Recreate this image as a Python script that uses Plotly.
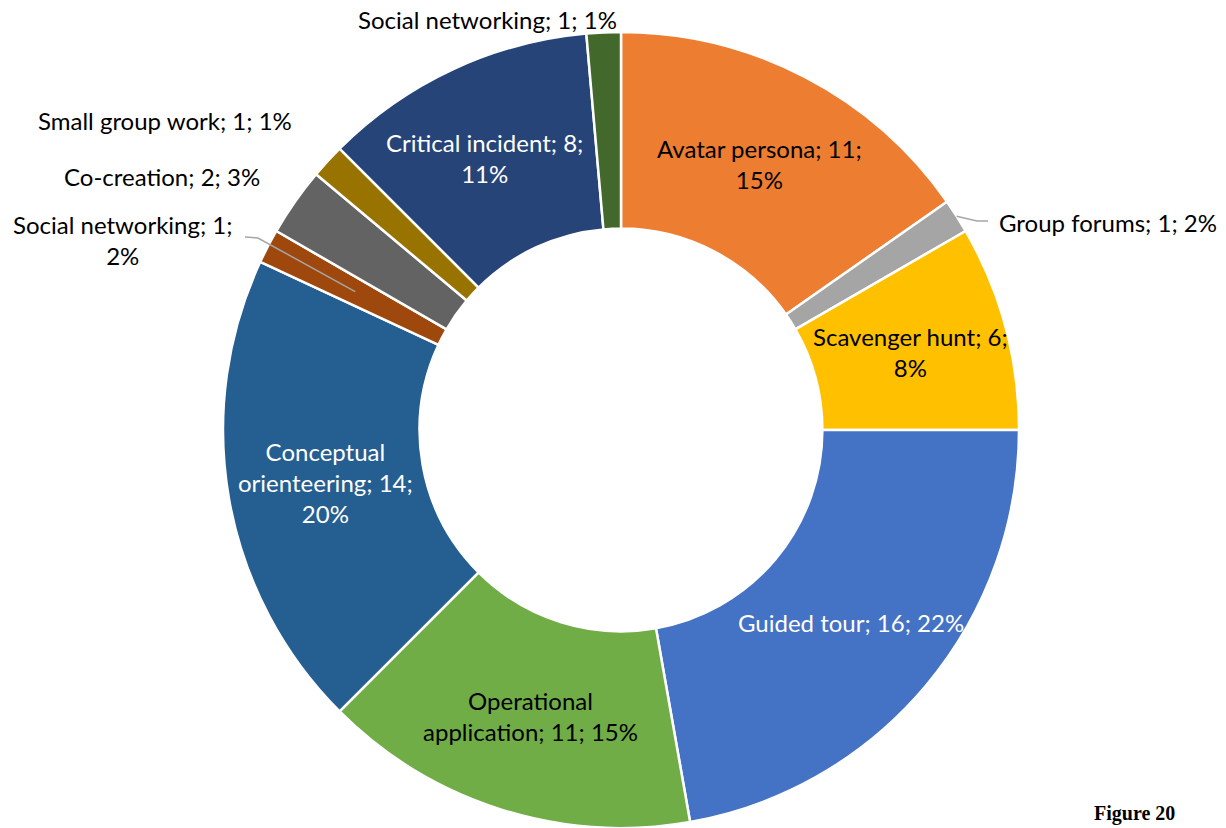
import math
import plotly.graph_objects as go

# Activity types, counts and the rounded shares shown in the labels
names = [
    "Avatar persona", "Group forums", "Scavenger hunt", "Guided tour",
    "Operational application", "Conceptual orienteering", "Social networking",
    "Co-creation", "Small group work", "Critical incident", "Social networking",
]
values = [11, 1, 6, 16, 11, 14, 1, 2, 1, 8, 1]
shares = ["15%", "2%", "8%", "22%", "15%", "20%", "2%", "3%", "1%", "11%", "1%"]

colors = [
    "#ED7D31", "#A5A5A5", "#FFC000", "#4472C4", "#70AD47", "#255E91",
    "#9E480E", "#636363", "#997300", "#264478", "#43682B",
]

W, H = 1226, 828
CX, CY, R = 621.0, 430.0, 398.0      # pie centre / radius in pixels
HOLE = 0.506
FONT = "Lato"
FS = 24


def px(x, y):
    """pixel position -> paper coordinates"""
    return x / W, 1 - y / H


def label_text(i):
    n, v, s = names[i], values[i], shares[i]
    wrap = wraps[i]
    if wrap == "one":
        return f"{n}; {v}; {s}"
    if wrap == "pct":
        return f"{n}; {v};<br>{s}"
    if wrap == "words":
        a, b = n.split(" ", 1)
        return f"{a}<br>{b}; {v};<br>{s}"
    a, b = n.split(" ", 1)
    return f"{a}<br>{b}; {v}; {s}"


# label layout per slice
wraps = ["pct", "one", "pct", "one", "first", "words", "pct", "one", "one", "pct", "one"]
inside = [True, False, True, True, True, True, False, False, False, True, False]
dark = [False, False, False, True, False, True, False, False, False, True, False]
outside_pos = {                     # pixel anchor, xanchor
    1: (997, 222, "left"),
    6: (123, 240, "center"),
    7: (162, 176, "center"),
    8: (165, 121, "center"),
    10: (487, 20, "center"),
}
inside_nudge = {9: (-10, 0)}

total = sum(values)
mids = []
acc = 0
for v in values:
    mids.append((acc + v / 2) / total * 2 * math.pi)
    acc += v


def polar(theta, r):
    return CX + r * math.sin(theta), CY - r * math.cos(theta)


fig = go.Figure(
    go.Pie(
        labels=[f"{n} {i}" for i, n in enumerate(names)],
        values=values,
        sort=False,
        direction="clockwise",
        rotation=0,
        hole=HOLE,
        textinfo="none",
        hoverinfo="label+value+percent",
        marker=dict(colors=colors, line=dict(color="white", width=2.5)),
        domain=dict(
            x=[(CX - R) / W, (CX + R) / W],
            y=[1 - (CY + R) / H, 1 - (CY - R) / H],
        ),
    )
)

annotations = []
ring_mid = R * (1 + HOLE) / 2
for i in range(len(values)):
    if inside[i]:
        x, y = polar(mids[i], ring_mid)
        dx, dy = inside_nudge.get(i, (0, 0))
        x, y = x + dx, y + dy
        xa = "center"
    else:
        x, y, xa = outside_pos[i]
    xp, yp = px(x, y)
    annotations.append(dict(
        x=xp, y=yp, xref="paper", yref="paper", xanchor=xa, yanchor="middle",
        text=label_text(i), showarrow=False, align="center",
        font=dict(family=FONT, size=FS, color="white" if dark[i] else "black"),
    ))

# caption in the bottom-right corner
annotations.append(dict(
    x=1092 / W, y=1 - 827 / H, xref="paper", yref="paper",
    xanchor="left", yanchor="bottom", text="<b>Figure 20</b>", showarrow=False,
    font=dict(family="Liberation Serif", size=20, color="black"),
))

# leader lines for two outside labels
def path(points):
    pts = [px(x, y) for x, y in points]
    return "M " + " L ".join(f"{a:.5f},{b:.5f}" for a, b in pts)

gx, gy = polar(mids[1], R)
sx, sy = polar(mids[6], ring_mid)
shapes = [
    dict(type="path", xref="paper", yref="paper",
         path=path([(gx, gy), (977, 221), (988, 221)]),
         line=dict(color="#A6A6A6", width=1.5)),
    dict(type="path", xref="paper", yref="paper",
         path=path([(245, 237), (258, 238), (sx, sy)]),
         line=dict(color="#A6A6A6", width=1.5)),
]

fig.update_layout(
    width=W, height=H,
    margin=dict(l=0, r=0, t=0, b=0),
    paper_bgcolor="white",
    plot_bgcolor="white",
    showlegend=False,
    annotations=annotations,
    shapes=shapes,
)

fig.write_html("out.html")
